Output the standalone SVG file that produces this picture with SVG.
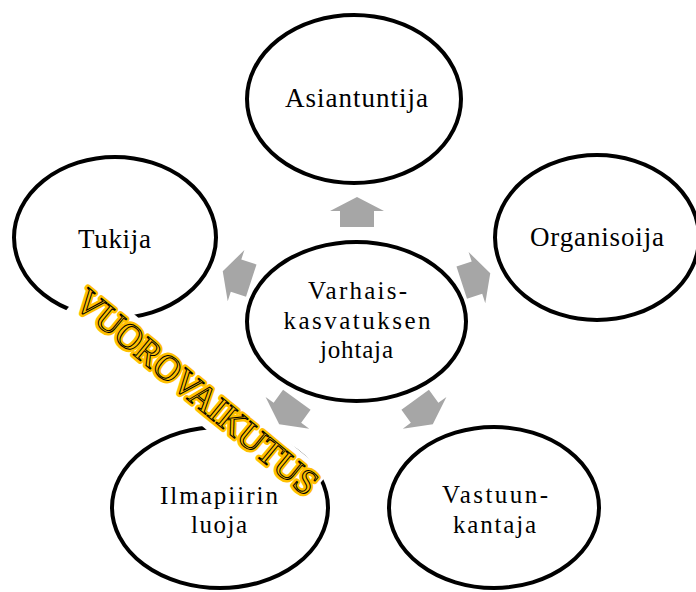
<svg xmlns="http://www.w3.org/2000/svg" xmlns:xlink="http://www.w3.org/1999/xlink" width="696" height="592" viewBox="0 0 696 592">
<defs>
<style>
.node ellipse{fill:#fff;stroke:#000;stroke-width:4}
.lbl{font-family:"Liberation Serif","Times New Roman",serif;font-size:27px;fill:#000;text-anchor:middle}
.sm{font-size:25px}
.arr{fill:#A6A6A6}
</style>
<path id="arrow" d="M0,-15 L27,-1 L17,-1 L17,15 L-17,15 L-17,-1 L-27,-1 Z"/>
<text id="vt" x="0" y="12" font-family="Liberation Serif, Times New Roman, serif" font-size="36" text-anchor="middle" textLength="302" lengthAdjust="spacingAndGlyphs">VUOROVAIKUTUS</text>
</defs>
<rect width="696" height="592" fill="#fff"/>
<g id="node-asiantuntija" class="node">
<ellipse cx="354" cy="99" rx="107" ry="84"/>
<text class="lbl" x="356.5" y="107" textLength="143">Asiantuntija</text>
</g>
<g id="node-organisoija" class="node">
<ellipse cx="597" cy="237.5" rx="102" ry="82.5"/>
<text class="lbl" x="597" y="245.5" textLength="134">Organisoija</text>
</g>
<g id="node-tukija" class="node">
<ellipse cx="115" cy="237.5" rx="101" ry="80.5"/>
<text class="lbl" x="114.5" y="247.5" textLength="73">Tukija</text>
</g>
<g id="node-ilmapiirin" class="node">
<ellipse cx="220" cy="507.5" rx="108" ry="80.5"/>
<text class="lbl sm" x="219" y="504" textLength="118">Ilmapiirin</text>
<text class="lbl sm" x="219" y="533" textLength="56">luoja</text>
</g>
<g id="node-vastuun" class="node">
<ellipse cx="494" cy="507.5" rx="105" ry="80.5"/>
<text class="lbl sm" x="495" y="503" textLength="106">Vastuun-</text>
<text class="lbl sm" x="494.5" y="533" textLength="83">kantaja</text>
</g>
<g id="node-center" class="node">
<ellipse cx="356.5" cy="321.5" rx="109.5" ry="79.5"/>
<text class="lbl sm" x="357.5" y="299" textLength="99">Varhais-</text>
<text class="lbl sm" x="357" y="328.5" textLength="147">kasvatuksen</text>
<text class="lbl sm" x="356.5" y="358" textLength="73">johtaja</text>
</g>
<g id="connectors" class="arr">
<use xlink:href="#arrow" transform="translate(357,212)"/>
<use xlink:href="#arrow" transform="translate(476,278) rotate(72)"/>
<use xlink:href="#arrow" transform="translate(424,412) rotate(144)"/>
<use xlink:href="#arrow" transform="translate(288,412) rotate(216)"/>
<use xlink:href="#arrow" transform="translate(237,276) rotate(288)"/>
</g>
<g id="wordart" transform="translate(197,392) rotate(39.5)">
<rect x="-153" y="-20" width="306" height="43" fill="#fff"/>
<use xlink:href="#vt" fill="#FFC000" stroke="#FFC000" stroke-width="6" stroke-linejoin="round"/>
<use xlink:href="#vt" fill="#FFC000" stroke="#000" stroke-width="1"/>
</g>
</svg>
